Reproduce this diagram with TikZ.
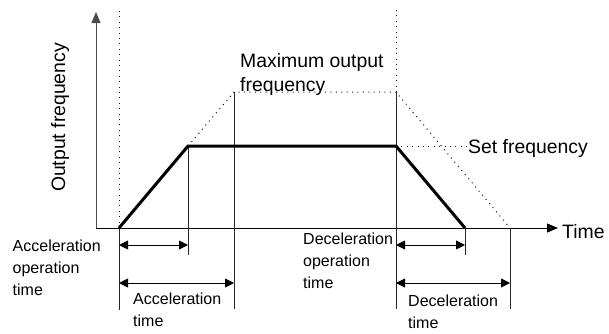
\documentclass[tikz,border=0pt]{standalone}
\usepackage{fontspec}
\setmainfont{Liberation Sans}
\usepackage{tikz}
\usetikzlibrary{arrows.meta}
\tikzstyle{axis}=[line width=0.8pt, -{Triangle[length=11pt,width=9pt]}]
\tikzstyle{guide}=[line width=0.6pt, black!85]
\tikzstyle{dotline}=[line width=1pt, black!90, dash pattern=on 1pt off 4.4pt]
\tikzstyle{ramp}=[line width=3pt, line join=miter]
\tikzstyle{span}=[line width=0.8pt, {Triangle[length=9pt,width=9pt]}-{Triangle[length=9pt,width=9pt]}]
\tikzstyle{biglabel}=[font=\fontsize{19.4}{24}\selectfont, inner sep=0pt]
\tikzstyle{smalllabel}=[font=\fontsize{16}{22}\selectfont, inner sep=0pt, align=left, anchor=north west]
\begin{document}
\begin{tikzpicture}[x=1pt,y=-1pt]
				\useasboundingbox (0,0) rectangle (609,333);
				% key points of the curve
				\coordinate (orig) at (96,228);
				\coordinate (ytop) at (96,12);
				\coordinate (xend) at (558,228);
				\coordinate (t0) at (119,228);
				\coordinate (a1) at (188,146);
				\coordinate (d0) at (396,146);
				\coordinate (t1) at (465,228);
				\coordinate (mx1) at (234,92);
				\coordinate (mx2) at (396,92);
				\coordinate (t2) at (510,228);
				\coordinate (t0top) at (119,10);
				\coordinate (mx2top) at (396,10);
				
				% axes
				\draw[axis, black!70] (orig) -- (ytop);
				\draw[axis] (orig) -- (xend);
				
				% dotted guides
				\draw[dotline] (t0) -- (t0top);
				\draw[dotline] (mx2) -- (mx2top);
				\draw[dotline] (a1) -- (mx1) -- (mx2) -- (t2);
				
				% drop lines
				\coordinate (t0b) at (119,310);
				\coordinate (a1b) at (188,255);
				\coordinate (mx1b) at (234,309);
				\coordinate (mx2b) at (396,309);
				\coordinate (t1b) at (465,255);
				\coordinate (t2b) at (510,309);
				\draw[guide] (t0) -- (t0b);
				\draw[guide] (a1) -- (a1b);
				\draw[guide] (mx1) -- (mx1b);
				\draw[guide] (mx2) -- (mx2b);
				\draw[guide] (t1) -- (t1b);
				\draw[guide] (t2) -- (t2b);
				
				% output frequency
				\draw[ramp] (t0) -- (a1) -- (d0) -- (t1);
				
				% time spans
				\coordinate (s1a) at (119,245);
				\coordinate (s1b) at (188,245);
				\coordinate (s2a) at (119,283);
				\coordinate (s2b) at (234,283);
				\coordinate (s3a) at (396,245);
				\coordinate (s3b) at (465,245);
				\coordinate (s4a) at (396,283);
				\coordinate (s4b) at (510,283);
				\draw[span] (s1a) -- (s1b);
				\draw[span] (s2a) -- (s2b);
				\draw[span] (s3a) -- (s3b);
				\draw[span] (s4a) -- (s4b);
				
				% labels
				\node[biglabel, rotate=90, anchor=base] (yl) at (65,117.5) {Output frequency};
				\node[biglabel, anchor=base west] (xl) at (562,238) {Time};
				\node[biglabel, align=left, anchor=north west] (maxl) at (240,53) {Maximum output\\frequency};
				\coordinate (setl0) at (468,146);
				\node[biglabel, anchor=base west] (setl) at (468,153) {Set frequency};
				\draw[dotline] (d0) -- (setl0);
				\node[smalllabel] (accop) at (12.5,240) {Acceleration\\operation\\time};
				\node[smalllabel] (acct) at (133,293) {Acceleration\\time};
				\node[smalllabel] (decop) at (303,233) {Deceleration\\operation\\time};
				\node[smalllabel] (dect) at (408,295) {Deceleration\\time};
			\end{tikzpicture}
\end{document}
